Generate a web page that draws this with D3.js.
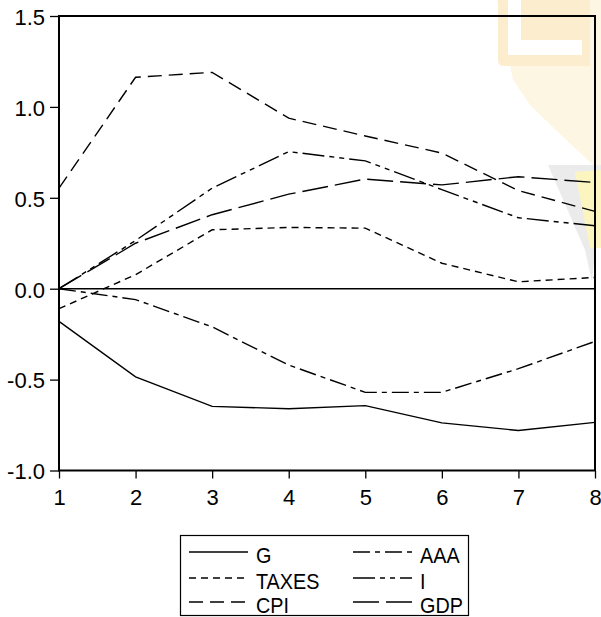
<!DOCTYPE html>
<html>
<head>
<meta charset="utf-8">
<script src="https://cdn.jsdelivr.net/npm/d3@7"></script>
<style>
  body { margin: 0; background: #fff; }
  svg { display: block; }
  text { font-family: "Liberation Sans", Arial, sans-serif; fill: #000; }
</style>
</head>
<body>
<div id="chart"></div>
<script>
// impulse responses, periods 1..8
var periods = [1, 2, 3, 4, 5, 6, 7, 8];
var G     = [-0.18, -0.485, -0.647, -0.66, -0.643, -0.738, -0.78, -0.735];
var TAXES = [-0.11, 0.077, 0.324, 0.337, 0.333, 0.14, 0.038, 0.062];
var CPI   = [0.553, 1.163, 1.19, 0.938, 0.84, 0.746, 0.54, 0.425];
var AAA   = [0.0, -0.06, -0.21, -0.42, -0.57, -0.57, -0.44, -0.29];
var I     = [0.0, 0.265, 0.553, 0.754, 0.703, 0.545, 0.39, 0.346];
var GDP   = [0.0, 0.25, 0.407, 0.52, 0.603, 0.571, 0.616, 0.584];
var yTicks = [-1.0, -0.5, 0.0, 0.5, 1.0, 1.5];

var series = [
  { name: "G", values: G, dash: null },
  { name: "TAXES", values: TAXES, dash: "7,5" },
  { name: "CPI", values: CPI, dash: "14,7" },
  { name: "AAA", values: AAA, dash: "17,5,5,5" },
  { name: "I", values: I, dash: "22,5,5,5,5,5" },
  { name: "GDP", values: GDP, dash: "26,7" }
];

var W = 601, H = 617;
var svg = d3.select("#chart").append("svg")
  .attr("width", W).attr("height", H);

svg.append("rect").attr("width", W).attr("height", H).attr("fill", "#fff");

// faded watermark in the top right corner
var wm = svg.append("g");
wm.append("polygon")
  .attr("points", "497,0 601,0 601,168 593,165 560,134 530,105 513,80")
  .attr("fill", "#fcf6e2");
wm.append("path")
  .attr("d", "M498,0 L590,0 L590,66 L504,66 Q498,66 498,60 Z")
  .attr("fill", "#fdedcf");
wm.append("path")
  .attr("d", "M508,0 L521,0 L521,40 L582,40 L582,55 L508,55 Z")
  .attr("fill", "#fff");
wm.append("polygon")
  .attr("points", "548,165 601,165 601,190 592,282 585,250")
  .attr("fill", "#ebebeb");
wm.append("polygon")
  .attr("points", "575,172 601,170 601,248 590,248")
  .attr("fill", "#fcf5bf");

var x = d3.scaleLinear().domain([1, 8]).range([59, 595]);
var y = d3.scaleLinear().domain([-1, 1.5]).range([470.5, 16]);

// zero line
svg.append("line")
  .attr("x1", x(1)).attr("x2", x(8))
  .attr("y1", y(0)).attr("y2", y(0))
  .attr("stroke", "#000").attr("stroke-width", 1.5);

var line = d3.line()
  .x(function (d, i) { return x(periods[i]); })
  .y(function (d) { return y(d); });

series.forEach(function (s) {
  svg.append("path")
    .attr("d", line(s.values))
    .attr("fill", "none")
    .attr("stroke", "#000")
    .attr("stroke-width", 1.4)
    .attr("stroke-dasharray", s.dash);
});

// frame
svg.append("rect")
  .attr("x", x(1)).attr("y", y(1.5))
  .attr("width", x(8) - x(1)).attr("height", y(-1) - y(1.5))
  .attr("fill", "none").attr("stroke", "#000").attr("stroke-width", 2);

var yAxis = d3.axisLeft(y).tickValues(yTicks).tickSize(9).tickPadding(5)
  .tickFormat(function (d) { return d.toFixed(1); });
var gy = svg.append("g").attr("transform", "translate(" + x(1) + ",0)").call(yAxis);
gy.select(".domain").remove();
gy.selectAll("line").attr("stroke-width", 1.3);
gy.selectAll("text").attr("font-size", 22).attr("dy", "0.38em");

var xAxis = d3.axisBottom(x).tickValues(periods).tickSize(8).tickPadding(11)
  .tickFormat(d3.format("d"));
var gx = svg.append("g").attr("transform", "translate(0," + y(-1) + ")").call(xAxis);
gx.select(".domain").remove();
gx.selectAll("line").attr("stroke-width", 1.3);
gx.selectAll("text").attr("font-size", 22);

// legend
var legend = svg.append("g");
legend.append("rect")
  .attr("x", 180.5).attr("y", 535.5).attr("width", 288).attr("height", 80)
  .attr("fill", "#fff").attr("stroke", "#000").attr("stroke-width", 1.2);

var cols = [189, 353];
var rows = [552, 578, 602];
series.forEach(function (s, i) {
  var cx = cols[Math.floor(i / 3)];
  var ry = rows[i % 3];
  legend.append("line")
    .attr("x1", cx).attr("x2", cx + 59)
    .attr("y1", ry).attr("y2", ry)
    .attr("stroke", "#000").attr("stroke-width", 1.4)
    .attr("stroke-dasharray", s.dash);
  legend.append("text")
    .attr("transform", "translate(" + (cx + 67) + "," + (ry + 11) + ") scale(0.9,1)")
    .attr("font-size", 22)
    .text(s.name);
});
</script>
</body>
</html>
